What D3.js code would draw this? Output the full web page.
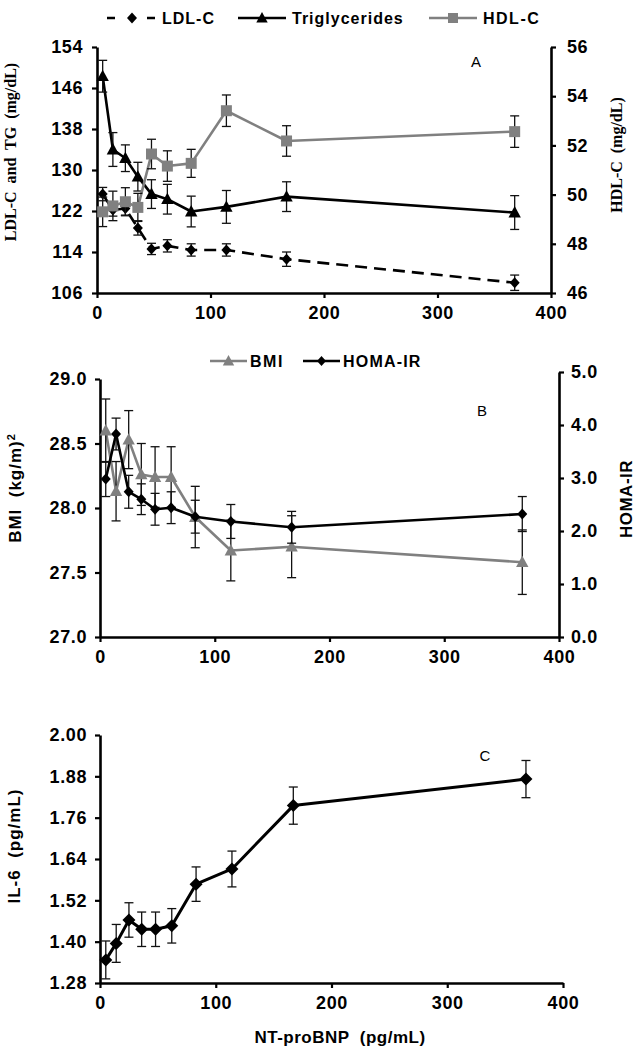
<!DOCTYPE html>
<html><head><meta charset="utf-8">
<script src="https://cdn.jsdelivr.net/npm/d3@7"></script>
<style>
body{margin:0;background:#fff;}
svg{display:block;}
</style></head>
<body>
<svg id="chart" width="644" height="1050"></svg>
<script>
// ---- data ----
const ntProBNP = [5, 14, 25, 36, 48, 62, 83, 114, 167, 368];
const xTicks = [0, 100, 200, 300, 400];

const ldlC = [125.3, 122.2, 122.5, 118.7, 114.6, 115.2, 114.4, 114.4, 112.6, 108.0];
const ldlErr = [1.3, 1.2, 1.3, 1.4, 1.1, 1.2, 1.2, 1.2, 1.4, 1.5];
const triglycerides = [148.3, 134.0, 132.3, 128.7, 125.3, 124.3, 121.9, 122.8, 124.8, 121.7];
const tgErr = [3.1, 3.3, 2.6, 2.8, 2.8, 2.9, 3.0, 3.2, 2.9, 3.3];
const hdlC = [49.3, 49.54, 49.71, 49.48, 51.65, 51.16, 51.27, 53.41, 52.18, 52.56];
const hdlErr = [0.6, 0.6, 0.57, 0.57, 0.6, 0.62, 0.57, 0.64, 0.62, 0.64];
const aLeftTicks = [106, 114, 122, 130, 138, 146, 154];
const aRightTicks = [46, 48, 50, 52, 54, 56];

const bmi = [28.60, 28.13, 28.53, 28.26, 28.24, 28.24, 27.93, 27.67, 27.70, 27.58];
const bmiErr = [0.245, 0.23, 0.225, 0.24, 0.235, 0.235, 0.238, 0.235, 0.24, 0.25];
const homaIR = [2.98, 3.83, 2.74, 2.60, 2.41, 2.44, 2.27, 2.18, 2.07, 2.32];
const homaErr = [0.33, 0.3, 0.31, 0.29, 0.3, 0.3, 0.31, 0.32, 0.3, 0.33];
const bLeftTicks = [27.0, 27.5, 28.0, 28.5, 29.0];
const bRightTicks = [0, 1, 2, 3, 4, 5];

const il6 = [1.347, 1.395, 1.463, 1.436, 1.436, 1.446, 1.567, 1.611, 1.795, 1.872];
const il6Err = [0.055, 0.055, 0.05, 0.05, 0.05, 0.05, 0.05, 0.052, 0.054, 0.054];
const cTicks = [1.28, 1.40, 1.52, 1.64, 1.76, 1.88, 2.00];

// ---- drawing ----
const svg = d3.select("#chart");
const SANS = "'Liberation Sans', Arial, sans-serif";
const SERIF = "'Liberation Serif', 'Times New Roman', serif";
const GREY = "#808080";

const diamond = (w, h) => `M0,${-h}L${w},0L0,${h}L${-w},0Z`;
const triangle = s => `M0,${-s}L${s * 0.95},${s * 0.75}L${-s * 0.95},${s * 0.75}Z`;
const square = s => `M${-s},${-s}H${s}V${s}H${-s}Z`;

function styleAxis(g, fs) {
  g.select(".domain").attr("stroke", "#000").attr("stroke-width", 2.6);
  g.selectAll(".tick line").attr("stroke", "#000").attr("stroke-width", 2.2);
  g.selectAll(".tick text").attr("font-family", SANS).attr("font-weight", "bold")
    .attr("font-size", fs || 18).attr("letter-spacing", "0.6px").attr("fill", "#000");
}

function drawAxes(xs, yl, yr, lt, rt, fmtL, fmtR, lpad, rpad) {
  const xa = svg.append("g").attr("transform", `translate(0,${yl.range()[0]})`)
    .call(d3.axisBottom(xs).tickValues(xTicks).tickSize(5).tickSizeOuter(0).tickPadding(8).tickFormat(d3.format("d")));
  styleAxis(xa);
  const la = svg.append("g").attr("transform", `translate(${xs.range()[0]},0)`)
    .call(d3.axisLeft(yl).tickValues(lt).tickSize(5).tickSizeOuter(0).tickPadding(lpad).tickFormat(fmtL));
  styleAxis(la);
  if (yr) {
    const ra = svg.append("g").attr("transform", `translate(${xs.range()[1]},0)`)
      .call(d3.axisRight(yr).tickValues(rt).tickSize(5).tickSizeOuter(0).tickPadding(rpad).tickFormat(fmtR));
    styleAxis(ra);
  }
}

function series(xs, ys, vals, errs, opt) {
  const g = svg.append("g");
  const line = d3.line().x((d, i) => xs(ntProBNP[i])).y(d => ys(d));
  g.append("path").datum(vals).attr("d", line).attr("fill", "none")
    .attr("stroke", opt.color).attr("stroke-width", opt.lw || 2.6)
    .attr("stroke-dasharray", opt.dash || null).attr("stroke-linejoin", "round");
  const cap = 4.5;
  vals.forEach((v, i) => {
    const cx = xs(ntProBNP[i]), y1 = ys(v + errs[i]), y2 = ys(v - errs[i]);
    g.append("line").attr("x1", cx).attr("x2", cx).attr("y1", y1).attr("y2", y2)
      .attr("stroke", "#111").attr("stroke-width", 1.3);
    [y1, y2].forEach(yy => g.append("line").attr("x1", cx - cap).attr("x2", cx + cap)
      .attr("y1", yy).attr("y2", yy).attr("stroke", "#111").attr("stroke-width", 1.3));
  });
  vals.forEach((v, i) => {
    g.append("path").attr("d", opt.marker)
      .attr("transform", `translate(${xs(ntProBNP[i])},${ys(v)})`).attr("fill", opt.color);
  });
}

function rotLabel(x, y, text, font, fs, ls) {
  return svg.append("text").attr("transform", `translate(${x},${y}) rotate(-90)`)
    .attr("text-anchor", "middle").attr("font-family", font).attr("font-weight", "bold")
    .attr("font-size", fs).attr("letter-spacing", ls || "0px")
    .style("white-space", "pre").text(text);
}

function legendItem(x1, x2, y, color, marker, dash, label, tx, fs, ls) {
  svg.append("line").attr("x1", x1).attr("x2", x2).attr("y1", y).attr("y2", y)
    .attr("stroke", color).attr("stroke-width", 2.6).attr("stroke-dasharray", dash || null);
  svg.append("path").attr("d", marker).attr("transform", `translate(${(x1 + x2) / 2},${y})`).attr("fill", color);
  svg.append("text").attr("x", tx).attr("y", y + 6).attr("font-family", SANS).attr("font-weight", "bold")
    .attr("font-size", fs).attr("letter-spacing", ls).text(label);
}

// ===== Panel A =====
const xA = d3.scaleLinear([0, 400], [97, 551]);
const yA = d3.scaleLinear([106, 154], [293, 47]);
const yA2 = d3.scaleLinear([46, 56], [293, 47]);
drawAxes(xA, yA, yA2, aLeftTicks, aRightTicks, d3.format("d"), d3.format("d"), 9, 11);
series(xA, yA, ldlC, ldlErr, {color: "#000", marker: diamond(5, 5.5), dash: "12,7"});
series(xA, yA, triglycerides, tgErr, {color: "#000", marker: triangle(6.5)});
series(xA, yA2, hdlC, hdlErr, {color: GREY, marker: square(5.5)});
rotLabel(16, 152, "LDL-C  and  TG  (mg/dL)", SERIF, 16);
rotLabel(622, 155, "HDL-C  (mg/dL)", SERIF, 16);
svg.append("text").attr("x", 476).attr("y", 67).attr("text-anchor", "middle")
  .attr("font-family", SANS).attr("font-size", 15).text("A");
legendItem(107, 157, 18, "#000", diamond(5, 5.5), "8,32", "LDL-C", 162, 16, "1px");
legendItem(238, 286, 18, "#000", triangle(6), null, "Triglycerides", 292, 16, "1px");
legendItem(429, 477, 18, GREY, square(5), null, "HDL-C", 483, 16, "1.5px");

// ===== Panel B =====
const xB = d3.scaleLinear([0, 400], [100, 559]);
const yB = d3.scaleLinear([27, 29], [637, 379]);
const yB2 = d3.scaleLinear([0, 5], [637, 372]);
drawAxes(xB, yB, yB2, bLeftTicks, bRightTicks, d3.format(".1f"), d3.format(".1f"), 8, 7);
series(xB, yB, bmi, bmiErr, {color: GREY, marker: triangle(6.5)});
series(xB, yB2, homaIR, homaErr, {color: "#000", marker: diamond(5, 5.5)});
const bl = rotLabel(21, 488, "BMI  (kg/m)", SANS, 17, "1px");
bl.append("tspan").attr("baseline-shift", "super").attr("font-size", 11).text("2");
rotLabel(632, 499, "HOMA-IR", SANS, 17, "0.5px");
svg.append("text").attr("x", 482).attr("y", 416).attr("text-anchor", "middle")
  .attr("font-family", SANS).attr("font-size", 15).text("B");
legendItem(210, 247, 361, GREY, triangle(6), null, "BMI", 250, 16, "1.5px");
legendItem(303, 340, 361, "#000", diamond(4.5, 5), null, "HOMA-IR", 343, 16, "1.2px");

// ===== Panel C =====
const xC = d3.scaleLinear([0, 400], [100, 563]);
const yC = d3.scaleLinear([1.28, 2.00], [983, 735]);
drawAxes(xC, yC, null, cTicks, null, d3.format(".2f"), null, 8, 0);
series(xC, yC, il6, il6Err, {color: "#000", marker: diamond(6.5, 6.5), lw: 3});
rotLabel(20, 846, "IL-6  (pg/mL)", SANS, 17, "1px");
svg.append("text").attr("x", 340).attr("y", 1043).attr("text-anchor", "middle")
  .attr("font-family", SANS).attr("font-weight", "bold").attr("font-size", 17)
  .attr("letter-spacing", "0.5px").style("white-space", "pre").text("NT-proBNP  (pg/mL)");
svg.append("text").attr("x", 485).attr("y", 761).attr("text-anchor", "middle")
  .attr("font-family", SANS).attr("font-size", 15).text("C");
</script>
</body></html>
